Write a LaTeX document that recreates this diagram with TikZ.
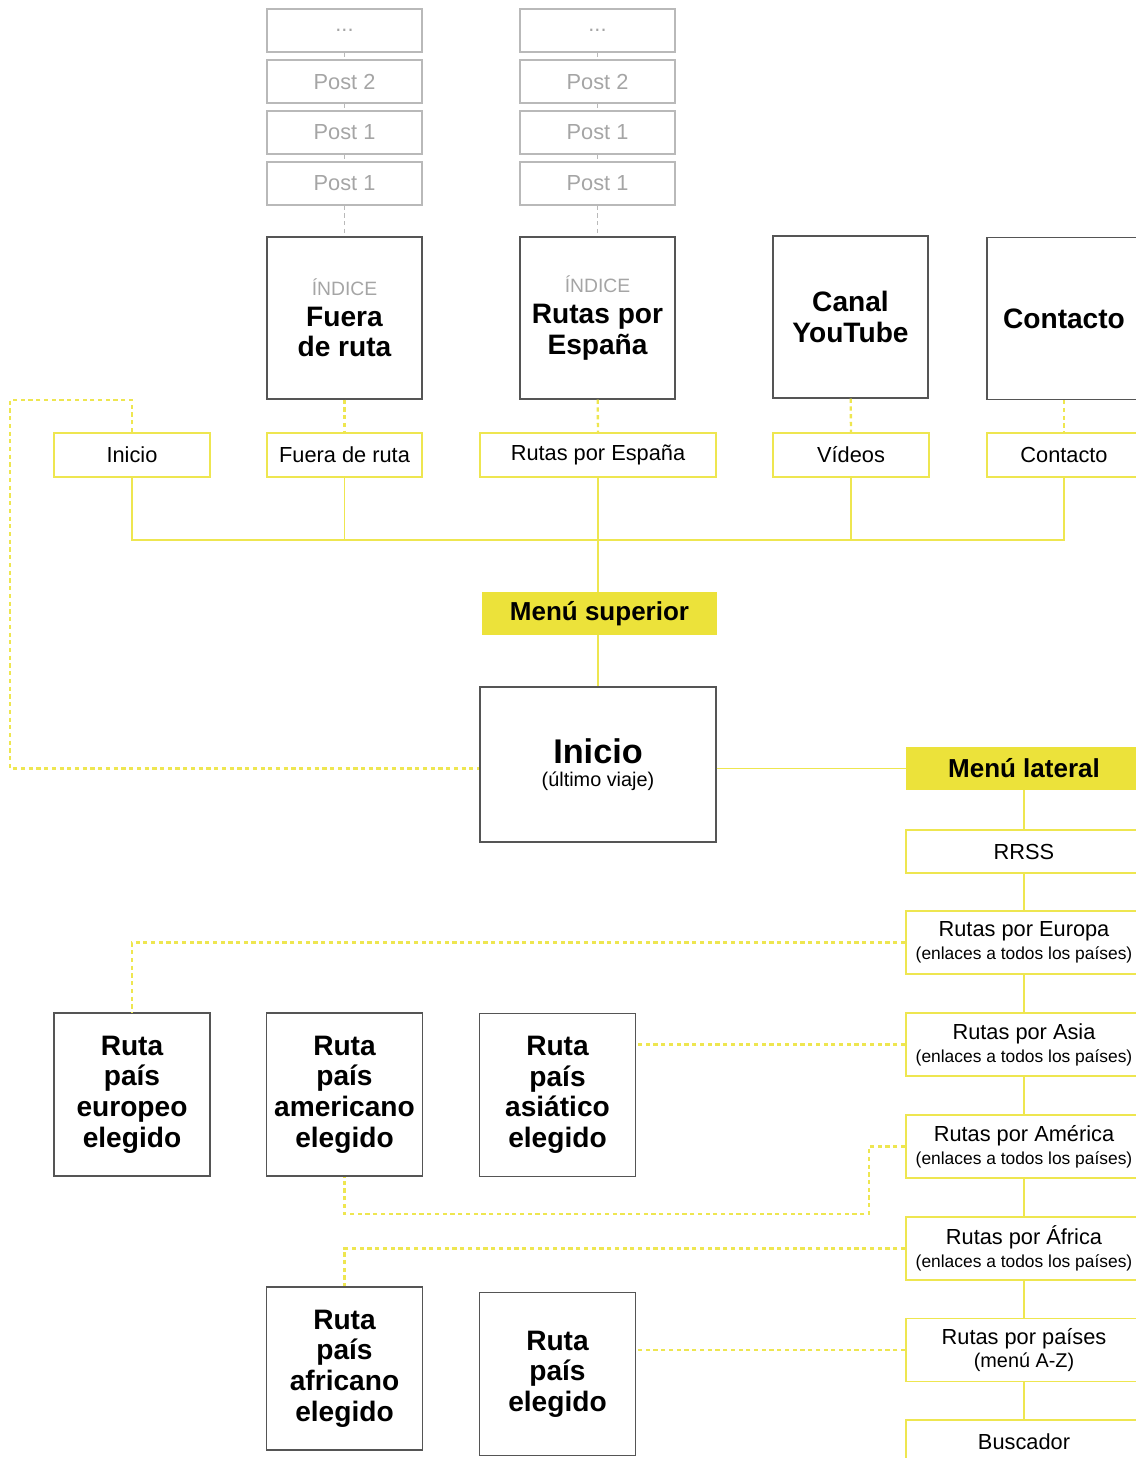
\documentclass[tikz,border=0pt]{standalone}
\usepackage{fontspec}
\setmainfont{Liberation Sans}
\usetikzlibrary{positioning}

\definecolor{lineyellow}{RGB}{238,230,80}
\definecolor{fillyellow}{RGB}{236,226,58}
\definecolor{postgray}{RGB}{185,185,185}
\definecolor{posttext}{RGB}{165,165,165}
\definecolor{boxgray}{RGB}{85,85,85}

\tikzset{
  postbox/.style={draw=postgray, line width=0.8pt, text=posttext, minimum width=3.1cm, minimum height=0.86cm, font=\fontsize{12.4}{14}\selectfont},
  indexbox/.style={draw=boxgray, line width=0.8pt, minimum width=3.1cm, minimum height=3.24cm, align=center, font=\fontsize{16}{17.4}\selectfont\bfseries},
  menubox/.style={draw=lineyellow, line width=1.1pt, fill=white, minimum height=0.88cm, font=\fontsize{12.4}{14}\selectfont},
  headbox/.style={fill=fillyellow, minimum width=4.7cm, minimum height=0.86cm, font=\fontsize{14.8}{16}\selectfont\bfseries},
  sidebox/.style={draw=lineyellow, line width=1.1pt, minimum width=4.72cm, align=center, font=\fontsize{12.4}{13}\selectfont},
  rutabox/.style={draw=boxgray, line width=0.8pt, minimum width=3.12cm, minimum height=3.26cm, align=center, font=\fontsize{16}{17.4}\selectfont\bfseries},
  link/.style={draw=lineyellow, line width=1.1pt},
  dlink/.style={draw=lineyellow, line width=1.3pt, dash pattern=on 2.4pt off 2pt},
  plink/.style={draw=postgray, line width=1pt, dash pattern=on 2.4pt off 2pt}
}
\newcommand{\indice}{{\fontsize{11}{13}\selectfont\mdseries\color{posttext}ÍNDICE}}
\newcommand{\enlaces}{{\fontsize{9.9}{11}\selectfont(enlaces a todos los países)}}

\begin{document}
\begin{tikzpicture}[x=0.02cm, y=-0.02cm]
  \useasboundingbox (0,0) rectangle (1136,1458);

  % entradas de blog
  \node[postbox] (pa0) at (344.5,30.5) {...};
  \node[postbox] (pa1) at (344.5,81.5) {Post 2};
  \node[postbox] (pa2) at (344.5,132.5) {Post 1};
  \node[postbox] (pa3) at (344.5,183.5) {Post 1};
  \node[postbox] (pb0) at (597.5,30.5) {...};
  \node[postbox] (pb1) at (597.5,81.5) {Post 2};
  \node[postbox] (pb2) at (597.5,132.5) {Post 1};
  \node[postbox] (pb3) at (597.5,183.5) {Post 1};

  % páginas de índice
  \node[indexbox] (ia) at (344.5,318) {\indice\\Fuera\\de ruta};
  \node[indexbox] (ib) at (597.5,318) {\indice\\Rutas por\\España};
  \node[indexbox] (ic) at (850.5,317) {Canal\\YouTube};
  \node[indexbox, minimum width=3.08cm] (id) at (1064,318.5) {Contacto};

  % menú superior
  \node[menubox, minimum width=3.12cm] (m1) at (132,455) {Inicio};
  \node[menubox, minimum width=3.1cm] (m2) at (344.5,455) {Fuera de ruta};
  \node[menubox, minimum width=4.72cm] (m3) at (598,455) {Rutas por España};
  \node[menubox, minimum width=3.12cm] (m4) at (851,455) {Vídeos};
  \node[menubox, minimum width=3.08cm] (m5) at (1064,455) {Contacto};
  \coordinate (bus) at (0,540);
  \node[headbox] (sup) at (599.5,613.5) {Menú superior};

  % portada
  \node[draw=boxgray, line width=0.8pt, minimum width=4.72cm, minimum height=3.1cm, align=center] (home) at (598,764.5)
    {{\fontsize{19.5}{21}\selectfont\bfseries Inicio}\\[1pt]{\fontsize{11.3}{13}\selectfont(último viaje)}};

  % menú lateral
  \node[headbox, minimum width=4.72cm] (lat) at (1024,768.5) {Menú lateral};
  \node[sidebox, minimum height=0.86cm] (rrss) at (1024,851.5) {RRSS};
  \node[sidebox, minimum height=1.26cm] (eur) at (1024,942.5) {Rutas por Europa\\\enlaces};
  \node[sidebox, minimum height=1.26cm] (asi) at (1024,1044.5) {Rutas por Asia\\\enlaces};
  \node[sidebox, minimum height=1.26cm] (ame) at (1024,1146.5) {Rutas por América\\\enlaces};
  \node[sidebox, minimum height=1.26cm] (afr) at (1024,1248.5) {Rutas por África\\\enlaces};
  \node[sidebox, minimum height=1.26cm] (pai) at (1024,1350) {Rutas por países\\{\fontsize{11.3}{13}\selectfont(menú A-Z)}};
  \node[sidebox, minimum height=0.86cm] (bus2) at (1024,1441.5) {Buscador};

  % fichas de ruta
  \node[rutabox] (reu) at (132,1094.5) {Ruta\\país\\europeo\\elegido};
  \node[rutabox] (ram) at (344.5,1094.5) {Ruta\\país\\americano\\elegido};
  \node[rutabox] (ras) at (557.5,1095) {Ruta\\país\\asiático\\elegido};
  \node[rutabox] (raf) at (344.5,1368.5) {Ruta\\país\\africano\\elegido};
  \node[rutabox] (rel) at (557.5,1374) {Ruta\\país\\elegido};

  % enlaces entre posts
  \draw[plink] (pa0) -- (pa1) -- (pa2) -- (pa3) -- (ia);
  \draw[plink] (pb0) -- (pb1) -- (pb2) -- (pb3) -- (ib);

  % índices y menú
  \draw[dlink] (ia) -- (m2);
  \draw[dlink] (ib) -- (m3);
  \draw[dlink] (ic) -- (m4);
  \draw[dlink] (id) -- (m5);
  \draw[link] (m1.south) |- (m5.south |- bus) -- (m5.south);
  \draw[link] (m2.south) -- (m2.south |- bus);
  \draw[link] (m4.south) -- (m4.south |- bus);
  \draw[link] (m3.south) -- (m3.south |- sup.north);
  \draw[link] (sup.south -| m3.south) -- (home.north);

  % vuelta a inicio
  \coordinate (lcorner) at (10,400);
  \draw[dlink] (m1.north) |- (lcorner) |- (home.west |- lat.west);

  % cadena lateral
  \draw[link] (home.east |- lat.west) -- (lat.west);
  \draw[link] (lat) -- (rrss);
  \draw[link] (rrss) -- (eur);
  \draw[link] (eur) -- (asi);
  \draw[link] (asi) -- (ame);
  \draw[link] (ame) -- (afr);
  \draw[link] (afr) -- (pai);
  \draw[link] (pai) -- (bus2);

  % enlaces a rutas
  \coordinate (amcorner) at (869,1214);
  \draw[dlink] (eur.west) -| (reu.north);
  \draw[dlink] (asi.west) -- (asi.west -| ras.east);
  \draw[dlink] (ame.west) -| (amcorner) -| (ram.south);
  \draw[dlink] (afr.west) -| (raf.north);
  \draw[dlink] (pai.west) -- (pai.west -| rel.east);
\end{tikzpicture}
\end{document}
